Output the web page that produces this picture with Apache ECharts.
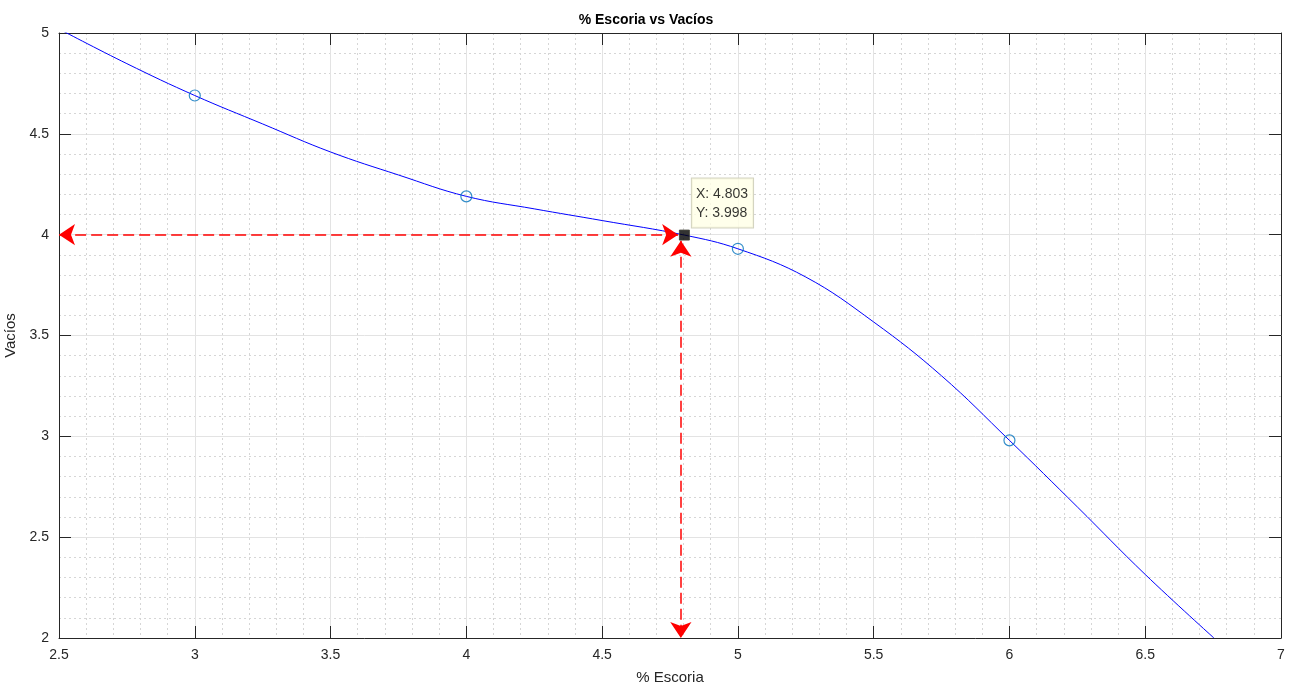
<!DOCTYPE html>
<html>
<head>
<meta charset="utf-8">
<script src="https://cdn.jsdelivr.net/npm/echarts@6/dist/echarts.min.js"></script>
<style>
  html, body { margin: 0; padding: 0; background: #fff; }
  #chart { width: 1292px; height: 688px; }
</style>
</head>
<body>
<div id="chart"></div>
<script>
// curva interpolada (x, y)
var curveX = [2.5, 2.75, 3.0, 3.25, 3.5, 3.75, 4.0, 4.25, 4.5, 4.803, 5.0, 5.25, 5.5, 5.75, 6.0, 6.25, 6.5, 6.753];
var curveY = [5.02, 4.848, 4.69, 4.549, 4.41, 4.296, 4.19, 4.128, 4.07, 3.998, 3.93, 3.79, 3.567, 3.30, 2.98, 2.65, 2.315, 2.0];
// puntos medidos
var escoria = [3, 4, 5, 6];
var vacios = [4.69, 4.19, 3.93, 2.98];
// punto marcado (datatip)
var tipX = 4.803;
var tipY = 3.998;
// flechas
var arrowH = [[4.78, 4.0], [2.5, 4.0]];
var arrowV = [[4.79, 3.97], [4.79, 2.0]];

var xTicks = { min: 2.5, max: 7, interval: 0.5 };
var yTicks = { min: 2, max: 5, interval: 0.5 };

var curveData = [];
for (var i = 0; i < curveX.length; i++) {
    curveData.push([curveX[i], curveY[i]]);
}
var pointData = [];
for (var j = 0; j < escoria.length; j++) {
    pointData.push([escoria[j], vacios[j]]);
}

var chart = echarts.init(document.getElementById('chart'));

var axisColor = '#262626';
var fontFam = '"Liberation Sans", Arial, Helvetica, sans-serif';

function mainAxis(t, pos, name, extra) {
    var a = {
        type: 'value',
        position: pos,
        min: t.min,
        max: t.max,
        interval: t.interval,
        axisLine: { show: true, onZero: false, lineStyle: { color: axisColor, width: 1 } },
        axisTick: { show: true, inside: true, length: 12, lineStyle: { color: axisColor } },
        axisLabel: { color: axisColor, fontSize: 14, fontFamily: fontFam, margin: 10 },
        splitLine: { show: true, lineStyle: { color: '#e3e3e3', width: 1 } },
        minorTick: { show: false, splitNumber: 5 },
        minorSplitLine: { show: true, lineStyle: { color: '#d6d6d6', width: 1, type: [2, 3] } },
        name: name,
        nameLocation: 'middle',
        nameTextStyle: { color: axisColor, fontSize: 15, fontFamily: fontFam }
    };
    return Object.assign(a, extra || {});
}

function mirrorAxis(t, pos) {
    return {
        type: 'value',
        position: pos,
        min: t.min,
        max: t.max,
        interval: t.interval,
        axisLine: { show: true, onZero: false, lineStyle: { color: axisColor, width: 1 } },
        axisTick: { show: true, inside: true, length: 12, lineStyle: { color: axisColor } },
        axisLabel: { show: false },
        splitLine: { show: false }
    };
}

chart.setOption({
    animation: false,
    backgroundColor: '#ffffff',
    title: {
        text: '% Escoria vs Vacíos',
        left: 'center',
        top: 8,
        textStyle: { fontSize: 14, fontWeight: 'bold', color: '#000', fontFamily: fontFam }
    },
    grid: { left: 59, right: 11, top: 33, bottom: 50, outerBoundsMode: 'none', containLabel: false },
    xAxis: [
        mainAxis(xTicks, 'bottom', '% Escoria', { nameGap: 32 }),
        mirrorAxis(xTicks, 'top')
    ],
    yAxis: [
        mainAxis(yTicks, 'left', 'Vacíos', { nameGap: 33 }),
        mirrorAxis(yTicks, 'right')
    ],
    series: [
        {
            name: 'curva',
            type: 'line',
            data: curveData,
            smooth: 0.4,
            showSymbol: false,
            clip: true,
            lineStyle: { color: '#0000ff', width: 1 },
            z: 3
        },
        {
            name: 'puntos',
            type: 'scatter',
            data: pointData,
            symbol: 'circle',
            symbolSize: 11,
            itemStyle: { color: 'rgba(0,0,0,0)', borderColor: '#0072bd', borderWidth: 1.2 },
            z: 4
        },
        {
            name: 'flechas',
            type: 'lines',
            coordinateSystem: 'cartesian2d',
            silent: true,
            symbol: ['arrow', 'arrow'],
            symbolSize: 16,
            itemStyle: { color: '#ff0000' },
            lineStyle: { color: '#ff0000', width: 1.5, type: [11, 5], opacity: 1 },
            data: [
                { coords: arrowH },
                { coords: arrowV }
            ],
            z: 5
        },
        {
            name: 'datatip',
            type: 'scatter',
            data: [[tipX, tipY]],
            symbol: 'rect',
            symbolSize: 10,
            itemStyle: { color: '#000', borderColor: '#3a3a30', borderWidth: 1 },
            label: {
                show: true,
                position: [13, -51],
                formatter: 'X: ' + tipX.toFixed(3) + '\nY: ' + tipY.toFixed(3),
                color: '#000',
                fontSize: 14,
                fontFamily: fontFam,
                lineHeight: 19,
                backgroundColor: '#ffffe6',
                borderColor: '#c8c8b0',
                borderWidth: 1,
                padding: [6, 5, 5, 4]
            },
            z: 6
        }
    ]
});
</script>
</body>
</html>
